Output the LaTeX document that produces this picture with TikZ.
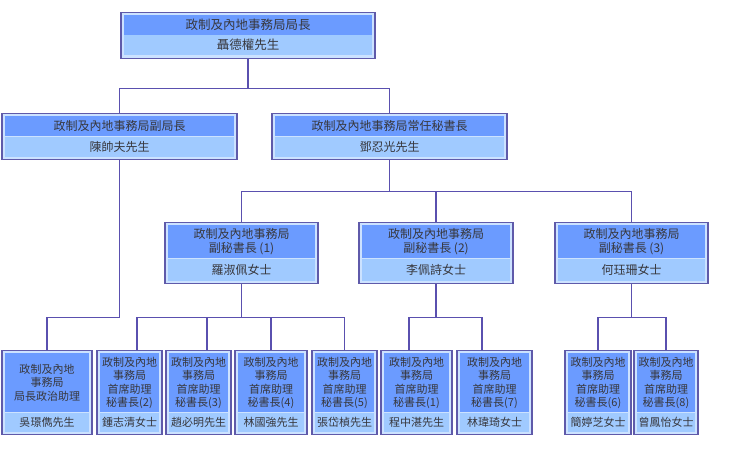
\documentclass[tikz,border=0pt]{standalone}
\usepackage{fontspec}
\setmainfont{Noto Sans CJK TC}
\usepackage{xcolor}
\usetikzlibrary{positioning}

\definecolor{titlefill}{RGB}{107,155,255}
\definecolor{namefill}{RGB}{160,202,255}
\definecolor{lightframe}{RGB}{204,226,255}
\definecolor{boxedge}{RGB}{95,90,170}
\definecolor{linkcol}{RGB}{90,80,175}
\definecolor{textgray}{RGB}{55,55,60}

\tikzset{
  boxframe/.style={draw=boxedge, line width=1.2pt, fill=lightframe, inner sep=0pt},
  bandfont/.style={font=\fontsize{12}{14}\selectfont},
  band/.style={inner sep=0pt, text=textgray, align=center, bandfont},
  titleband/.style={band, fill=titlefill},
  nameband/.style={band, fill=namefill},
  link/.style={draw=linkcol, line width=1.1pt},
}

% name, centre x, top y, width, title height, name height, title, person
\newcommand\orgbox[8]{%
  \node[boxframe, anchor=north, minimum width=#4, minimum height=#5+#6+6] (#1) at (#2,#3) {};
  \node[titleband, anchor=north, minimum width=#4-6, minimum height=#5] (#1t) at ([yshift=-3pt]#1.north) {#7};
  \node[nameband, anchor=north, minimum width=#4-6, minimum height=#6] (#1n) at (#1t.south) {#8};
}

\begin{document}
\begin{tikzpicture}[x=1pt, y=-1pt]
    \useasboundingbox (0,0) rectangle (735,450);

    % bureau head
    \orgbox{dir}{248}{11.5}{254}{20}{20}{\fontsize{12.5}{14}\selectfont 政制及內地事務局局長}{\fontsize{12.5}{14}\selectfont 聶德權先生}

    % second row
    \orgbox{dep}{119.5}{113}{235}{20}{20}{政制及內地事務局副局長}{陳帥夫先生}
    \orgbox{ps}{389.5}{113}{235}{20}{20}{政制及內地事務局常任秘書長}{鄧忍光先生}

    % deputy secretaries
    \orgbox{dps1}{241.5}{222}{153}{33}{22}{政制及內地事務局\\副秘書長 (1)}{羅淑佩女士}
    \orgbox{dps2}{436}{222}{154}{33}{22}{政制及內地事務局\\副秘書長 (2)}{李佩詩女士}
    \orgbox{dps3}{631.5}{222}{153}{33}{22}{政制及內地事務局\\副秘書長 (3)}{何珏珊女士}

    % assistant secretaries
    \begin{scope}[bandfont/.style={font=\fontsize{11}{13.5}\selectfont}]
    \orgbox{pa}{47}{350}{90}{59}{19}{政制及內地\\事務局\\局長政治助理}{吳璟儁先生}
    \orgbox{as2}{129.5}{350}{65}{59}{19}{政制及內地\\事務局\\首席助理\\秘書長(2)}{鍾志清女士}
    \orgbox{as3}{198.5}{350}{65}{59}{19}{政制及內地\\事務局\\首席助理\\秘書長(3)}{趙必明先生}
    \orgbox{as4}{271}{350}{72}{59}{19}{政制及內地\\事務局\\首席助理\\秘書長(4)}{林國強先生}
    \orgbox{as5}{344.5}{350}{65}{59}{19}{政制及內地\\事務局\\首席助理\\秘書長(5)}{張岱楨先生}
    \orgbox{as1}{416.5}{350}{71}{59}{19}{政制及內地\\事務局\\首席助理\\秘書長(1)}{程中湛先生}
    \orgbox{as7}{494.5}{350}{75}{59}{19}{政制及內地\\事務局\\首席助理\\秘書長(7)}{林瑋琦女士}
    \orgbox{as6}{598}{350}{66}{59}{19}{政制及內地\\事務局\\首席助理\\秘書長(6)}{簡婷芝女士}
    \orgbox{as8}{666}{350}{64}{59}{19}{政制及內地\\事務局\\首席助理\\秘書長(8)}{曾鳳怡女士}
    \end{scope}

    % connectors
    \draw[link] (dir.south) -- ++(0,30) -| (dep.north);
    \draw[link] (dir.south) -- ++(0,30) -| (ps.north);
    \draw[link] (dep.south) -- ++(0,157) -| (pa.north);
    \draw[link] (ps.south) -- ++(0,31) -| (dps1.north);
    \draw[link] (ps.south) -- ++(0,31) -| (dps2.north);
    \draw[link] (ps.south) -- ++(0,31) -| (dps3.north);
    \draw[link] (dps1.south) -- ++(0,33) -| ([xshift=7.5pt]as2.north);
    \draw[link] (dps1.south) -- ++(0,33) -| ([xshift=8.5pt]as3.north);
    \draw[link] (dps1.south) -- ++(0,33) -| (as4.north);
    \draw[link] (dps1.south) -- ++(0,33) -| (as5.north);
    \draw[link] (dps2.south) -- ++(0,33) -| ([xshift=-7.5pt]as1.north);
    \draw[link] (dps2.south) -- ++(0,33) -| ([xshift=-12.5pt]as7.north);
    \draw[link] (dps3.south) -- ++(0,33) -| (as6.north);
    \draw[link] (dps3.south) -- ++(0,33) -| (as8.north);
\end{tikzpicture}
\end{document}
